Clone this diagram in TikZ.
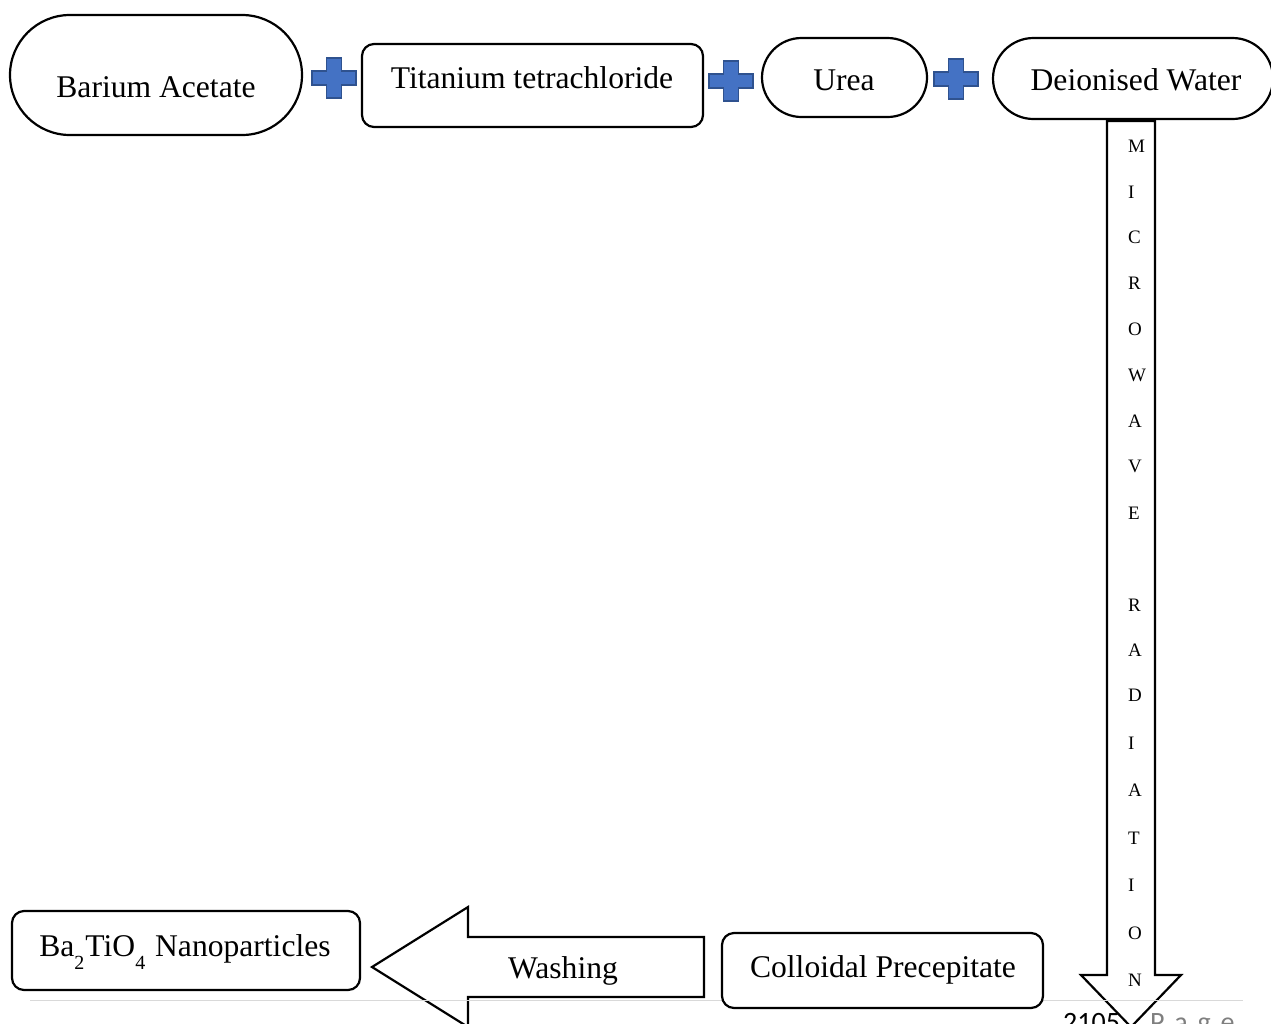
\documentclass[tikz,border=0pt]{standalone}
\usepackage{fontspec}
\setmainfont{Liberation Serif}
\newfontfamily\footfont{Carlito}
\definecolor{crossfill}{HTML}{4472C4}
\definecolor{crossedge}{HTML}{2F528F}
\definecolor{footgray}{HTML}{7F7F7F}
\definecolor{rulegray}{HTML}{D9D9D9}
\newcommand\drawcross[2]{\draw[crossstyle,shift={(#1,#2)}] (-7.5,-20) -- (7.5,-20) -- (7.5,-7) -- (22,-7) -- (22,7) -- (7.5,7) -- (7.5,20) -- (-7.5,20) -- (-7.5,7) -- (-22,7) -- (-22,-7) -- (-7.5,-7) -- cycle;}
\begin{document}
\begin{tikzpicture}[x=1pt,y=-1pt,
  box/.style={draw=black,line width=2.2pt,fill=white,inner sep=0pt},
  lbl/.style={font=\fontsize{31.6}{31.6}\selectfont,anchor=base,inner sep=0pt},
  letter/.style={font=\fontsize{19}{19}\selectfont,anchor=base west,inner sep=0pt},
  blockarrow/.style={draw=black,line width=2.2pt,fill=white,line join=miter},
  crossstyle/.style={fill=crossfill,draw=crossedge,line width=1.3pt}]
\useasboundingbox (0,0) rectangle (1271,1023);
\clip (0,0) rectangle (1271,1023);
% footer text (partly hidden)
\node[font=\footfont\fontsize{28}{28}\selectfont,anchor=base west,inner sep=0pt] (pagenum) at (1063,1031) {2105};
\node[font=\footfont\fontsize{28}{28}\selectfont,anchor=base west,inner sep=0pt,text=footgray] (pageword) at (1150,1031) {P\hspace{0.35em}a\hspace{0.35em}g\hspace{0.35em}e};
% top row
\node[box,rounded corners=60pt,minimum width=292pt,minimum height=120pt] (ba) at (156,75) {};
\node[lbl] (batxt) at (156,97) {Barium Acetate};
\drawcross{334}{78}
\node[box,rounded corners=12pt,minimum width=341pt,minimum height=83pt] (ti) at (532.5,85.5) {};
\node[lbl] (titxt) at (532,88) {Titanium tetrachloride};
\drawcross{731}{81}
\node[box,rounded corners=39.5pt,minimum width=165pt,minimum height=79pt] (urea) at (844.5,77.5) {};
\node[lbl] (ureatxt) at (844,90) {Urea};
\drawcross{956}{79}
\node[box,rounded corners=40.5pt,minimum width=280pt,minimum height=81pt] (water) at (1133,78.5) {};
\node[lbl] (watertxt) at (1136,90) {Deionised Water};
% microwave arrow
\draw[blockarrow] (1107,121) -- (1155,121) -- (1155,975) -- (1181,975) -- (1131,1027) -- (1081,975) -- (1107,975) -- cycle;
\foreach \ch/\yc [count=\i] in {M/146,I/192,C/237,R/283,O/329,W/375,A/421,V/466,E/513,R/605,A/650,D/695,I/743,A/790,T/838,I/885,O/933,N/980}{
  \node[letter] (mw\i) at (1128,{\yc+6.3}) {\ch};
}
% washing arrow
\draw[blockarrow] (704,937) -- (704,997) -- (468,997) -- (468,1027) -- (372,967) -- (468,907) -- (468,937) -- cycle;
\node[lbl] (washtxt) at (563,978) {Washing};
% footer rule
\draw[rulegray,line width=1pt] (30,1000) -- (1243,1000);
% bottom boxes
\node[box,rounded corners=12pt,minimum width=321pt,minimum height=75pt] (coll) at (882.5,970.5) {};
\node[lbl] (colltxt) at (883,977) {Colloidal Precepitate};
\node[box,rounded corners=12pt,minimum width=348pt,minimum height=79pt] (nano) at (186,950.5) {};
\node[lbl] (nanotxt) at (185,956) {Ba\raisebox{-13pt}{\fontsize{20}{20}\selectfont 2}\hspace{1pt}TiO\raisebox{-13pt}{\fontsize{20}{20}\selectfont 4}\hspace{2pt} Nanoparticles};
\end{tikzpicture}
\end{document}
